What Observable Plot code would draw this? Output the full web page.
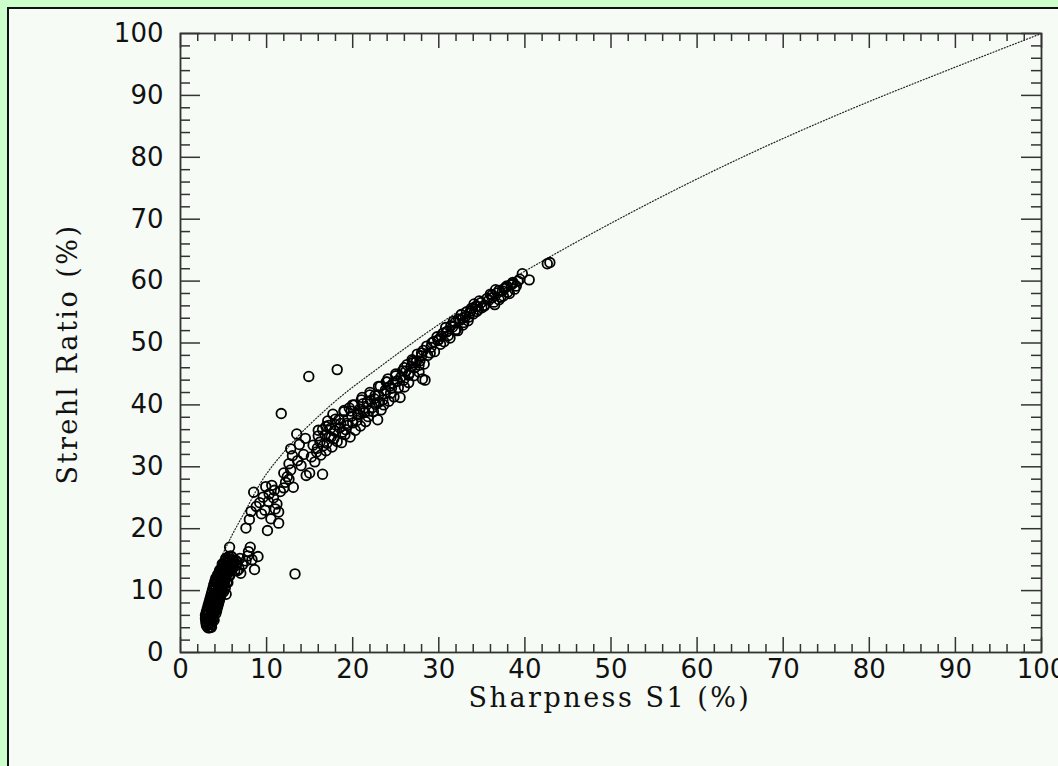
<!DOCTYPE html>
<html>
<head>
<meta charset="utf-8">
<script src="https://cdn.jsdelivr.net/npm/d3@7"></script>
<script src="https://cdn.jsdelivr.net/npm/@observablehq/plot@0.6"></script>
<style>
  html, body { margin: 0; padding: 0; width: 1058px; height: 766px; overflow: hidden; background: #ccffcc; }
  #panel { position: absolute; left: 7px; top: 7px; right: 0; bottom: 0; background: #f6fbf6;
           border-left: 2px solid #111; border-top: 2px solid #111; }
  #chart { position: absolute; left: 0; top: 0; }
</style>
</head>
<body>
<div id="panel"></div>
<div id="chart"></div>
<script>
// Sharpness S1 (%) vs Strehl Ratio (%) — measured points
const s1 = [
  // dense low-sharpness cluster
  3.2,3.4,3.6, 3.0,3.3,3.6, 3.0,3.3,3.6,3.9, 2.9,3.2,3.5,3.8, 2.9,3.2,3.5,3.8,4.1,
  3.0,3.3,3.6,3.9,4.2, 3.1,3.4,3.7,4.0,4.3, 3.2,3.5,3.8,4.1,4.4, 3.3,3.6,3.9,4.2,4.5,
  3.4,3.7,4.0,4.3,4.6, 3.5,3.8,4.1,4.4,4.7,5.3, 3.6,3.9,4.2,4.5,4.8, 3.7,4.0,4.3,4.6,4.9,5.2,
  3.8,4.1,4.4,4.7,5.0, 3.9,4.2,4.5,4.8,5.1,5.4, 4.0,4.3,4.6,4.9,5.2, 4.1,4.4,4.7,5.0,5.3,5.7,
  4.3,4.6,4.9,5.2,5.5, 4.5,4.8,5.1,5.4,5.8,6.3, 4.7,5.0,5.3,5.6,6.0, 4.9,5.2,5.5,5.9,6.5,
  5.1,5.4,5.8,6.2, 5.3,5.7,6.1, 5.6,6.0, 5.7,
  3.05,3.45,3.15,3.55,3.05,3.65,3.95,3.25,3.85,4.25,3.45,4.05,4.45,3.55,3.85,4.35,4.65,3.95,4.55,4.95,
  4.15,4.75,5.05,4.35,4.85,5.35,4.55,5.15,5.75,4.85,5.45,6.05,5.25,5.85,2.95,3.75,4.6,5.0,5.5,5.6,6.2,6.6,6.4,
  // transition
  6.8,7.2,7.6,7.9,8.1,7.8,8.6,9.0,8.3,7.0,6.6,6.9,
  7.6,8.0,8.2,8.5,8.8,9.2,9.6,9.9,10.3,10.6,10.9,11.2,10.1,10.5,11.4,11.4,11.0,12.0,12.4,12.8,13.1,13.3,
  11.7,12.8,13.5,13.6,14.0,14.3,14.6,15.0,16.5,14.9,18.2,12.0,12.6,13.0,13.8,14.5,
  9.4,9.8,10.2,10.8,11.6,12.2,12.6,
  // main band
  15.4,15.8,16.2,16.5,16.8,17.1,17.4,17.7,17.0,17.8,18.0,18.4,18.8,19.0,19.3,19.6,19.9,
  20.2,20.5,20.8,21.1,21.4,21.7,22.0,22.3,22.6,22.9,23.2,23.5,23.8,24.1,24.4,24.7,25.0,
  25.3,25.6,26.0,26.3,26.6,26.9,27.2,27.5,27.8,28.1,28.4,28.2,28.6,29.0,29.4,29.8,
  30.2,30.5,30.8,31.1,31.4,31.7,32.0,32.3,32.6,32.9,33.2,33.5,33.8,34.1,34.4,34.7,35.0,
  35.6,36.0,36.4,36.8,37.2,37.6,38.0,38.4,38.8,39.2,39.7,40.5,42.6,42.9,
  16.0,16.9,17.5,18.6,19.2,19.8,20.6,21.2,21.9,22.5,23.0,23.7,24.3,25.1,25.8,26.5,27.0,27.7,
  29.2,30.0,31.0,31.9,32.8,33.6,34.5,35.3,36.2,37.0,37.9,38.6,
  15.2,15.6,15.9,16.3,16.6,16.9,17.3,17.6,17.9,18.2,18.5,18.7,19.1,19.4,19.7,20.0,20.3,20.6,20.9,21.2,
  21.5,21.8,22.1,22.4,22.7,23.0,23.3,23.6,23.9,24.2,24.5,24.8,25.2,25.5,25.9,26.2,26.5,26.8,27.1,27.4,
  27.7,28.0,28.3,28.7,29.1,29.5,29.9,30.3,30.6,30.9,31.3,31.6,31.9,32.2,32.5,32.8,33.1,33.4,33.7,34.0,
  34.3,34.6,34.9,35.3,35.8,36.2,36.6,37.0,37.4,37.8,38.2,38.6,39.0,39.4,36.5,37.5,
  16.0,17.2,18.0,19.0,20.0,21.0,22.0,23.0,24.0,25.0,26.0,27.0,28.0
];
const strehl = [
  4.0,4.0,4.1, 4.5,4.6,4.5, 5.0,5.1,5.0,5.2, 5.5,5.6,5.4,5.7, 6.0,6.1,5.9,6.2,6.3,
  6.5,6.6,6.4,6.7,6.8, 7.0,7.1,6.9,7.2,7.3, 7.5,7.6,7.4,7.7,7.8, 8.0,8.1,7.9,8.2,8.3,
  8.5,8.6,8.4,8.7,8.8, 9.0,9.1,8.9,9.2,9.3,9.4, 9.5,9.6,9.4,9.7,9.8, 10.0,10.1,9.9,10.2,10.3,10.4,
  10.5,10.6,10.4,10.7,10.8, 11.0,11.1,10.9,11.2,11.3,11.4, 11.5,11.6,11.4,11.7,11.8, 12.0,12.1,11.9,12.2,12.3,12.4,
  12.5,12.6,12.4,12.7,12.8, 13.0,13.1,12.9,13.2,13.3,13.2, 13.5,13.6,13.4,13.7,13.8, 14.0,14.1,13.9,14.2,14.2,
  14.5,14.6,14.4,14.7, 15.0,15.1,14.9, 15.5,15.4, 17.0,
  4.3,4.8,5.3,5.8,6.2,6.3,6.6,6.9,7.3,7.6,7.8,8.3,8.6,8.7,9.3,9.7,9.9,10.3,10.6,10.9,
  11.3,11.6,11.8,12.2,12.6,12.8,13.3,13.6,13.7,14.3,14.8,14.3,15.2,15.6,4.9,5.3,9.3,9.8,11.3,12.4,13.8,13.2,14.9,
  13.5,14.2,14.8,16.3,17.0,15.6,13.4,15.5,15.0,12.8,14.6,15.2,
  20.1,21.5,22.8,25.9,23.6,24.2,25.1,26.8,25.6,27.0,26.2,24.0,19.7,21.6,20.9,22.7,23.2,26.6,28.4,29.5,26.7,12.7,
  38.6,32.9,35.3,31.0,30.2,32.0,28.6,29.0,28.8,44.6,45.7,29.0,30.5,31.8,33.6,34.6,
  22.4,23.0,24.4,25.0,26.0,27.5,28.0,
  33.5,32.4,34.0,36.0,35.2,37.4,36.2,38.5,33.8,34.5,36.8,37.6,35.6,38.9,37.0,39.5,38.2,
  40.0,37.5,39.3,41.2,38.8,40.5,42.0,39.6,41.5,37.6,43.0,40.8,42.4,44.2,41.9,43.5,45.0,
  42.8,44.5,42.9,46.5,45.2,47.3,46.0,48.2,47.1,44.2,44.0,48.8,49.5,48.4,50.2,51.0,
  49.8,51.6,52.5,51.2,52.8,53.5,52.2,53.9,54.6,53.3,55.0,54.2,55.6,56.3,55.1,56.8,55.7,
  57.2,57.9,56.6,58.1,57.4,58.8,58.2,59.4,58.7,60.0,61.2,60.2,62.8,63.0,
  35.0,36.5,34.8,37.0,36.0,39.0,38.6,40.2,39.0,41.0,40.4,41.8,43.0,43.8,45.5,44.8,46.8,46.4,
  50.0,50.6,51.9,52.0,54.0,54.8,55.9,56.0,57.8,58.5,59.2,59.8,
  31.6,30.8,33.0,31.9,33.4,32.6,34.9,33.2,35.8,34.1,36.3,33.9,35.2,36.7,34.8,37.1,35.9,38.4,36.6,39.0,
  37.3,38.1,40.7,38.9,40.1,41.6,39.2,40.0,43.7,40.6,42.7,41.3,43.9,41.2,44.0,45.5,43.6,46.2,44.7,47.0,
  45.3,47.9,46.6,48.0,49.3,48.6,50.4,51.1,50.2,51.8,50.8,52.6,53.3,52.0,53.7,52.9,54.3,53.6,55.2,54.7,
  55.9,55.4,56.5,56.1,56.9,57.3,58.6,57.0,58.4,59.0,58.0,59.6,59.2,60.3,56.2,57.6,
  35.9,36.7,37.7,39.1,40.0,40.8,41.6,43.0,43.7,44.7,46.0,47.1,48.4
];
// dotted reference relation
const curveX = [3.3, 4.0, 5.0, 6.0, 7.5, 9.3, 12.4, 17.0, 23.6, 31.4, 39.5, 46.1, 55.0, 66.3, 76.7, 89.5, 100];
const curveY = [11.1, 13.3, 16.2, 19.0, 22.8, 27.4, 33.0, 39.4, 46.6, 54.3, 61.2, 66.4, 73.0, 80.7, 87.1, 94.3, 100];

const majorTicks = [0, 10, 20, 30, 40, 50, 60, 70, 80, 90, 100];
const minorTicks = d3.range(0, 101, 2).filter(v => v % 10 !== 0);

const points = s1.map((x, i) => ({x, y: strehl[i]}));
const curve = curveX.map((x, i) => ({x, y: curveY[i]}));

const W = 1058, H = 766;
const mL = 180, mT = 33, mR = 17, mB = 114;
const pw = W - mL - mR, ph = H - mT - mB;

const chart = Plot.plot({
  width: W, height: H,
  marginLeft: mL, marginTop: mT, marginRight: mR, marginBottom: mB,
  style: {background: "transparent", fontFamily: "DejaVu Sans", color: "#111"},
  x: {domain: [0, 100]},
  y: {domain: [0, 100]},
  marks: [
    Plot.line(curve, {x: "x", y: "y", stroke: "#222", strokeWidth: 1.2, strokeDasharray: "1,2", curve: "monotone-x"}),
    Plot.dot(points, {x: "x", y: "y", r: 4.8, stroke: "#000", strokeWidth: 1.8, fill: "none"}),
    // inward ticks, bottom & top
    Plot.tickX(majorTicks, {x: d => d, insetTop: ph - 15, stroke: "#333", strokeWidth: 1.5}),
    Plot.tickX(minorTicks, {x: d => d, insetTop: ph - 8, stroke: "#333", strokeWidth: 1.5}),
    Plot.tickX(majorTicks, {x: d => d, insetBottom: ph - 15, stroke: "#333", strokeWidth: 1.5}),
    Plot.tickX(minorTicks, {x: d => d, insetBottom: ph - 8, stroke: "#333", strokeWidth: 1.5}),
    // inward ticks, left & right
    Plot.tickY(majorTicks, {y: d => d, insetRight: pw - 20, stroke: "#333", strokeWidth: 1.5}),
    Plot.tickY(minorTicks, {y: d => d, insetRight: pw - 10, stroke: "#333", strokeWidth: 1.5}),
    Plot.tickY(majorTicks, {y: d => d, insetLeft: pw - 20, stroke: "#333", strokeWidth: 1.5}),
    Plot.tickY(minorTicks, {y: d => d, insetLeft: pw - 10, stroke: "#333", strokeWidth: 1.5}),
    Plot.frame({stroke: "#333", strokeWidth: 1.8}),
    Plot.axisX(majorTicks, {tickSize: 0, tickPadding: 7, fontSize: 26, label: null, tickFormat: d => String(d)}),
    Plot.axisY(majorTicks, {tickSize: 0, tickPadding: 17, fontSize: 26, label: null, tickFormat: d => String(d)})
  ]
});
document.getElementById("chart").appendChild(chart);

// axis titles as text in the same SVG
const svg = d3.select(chart);
svg.append("text")
  .attr("x", 610).attr("y", 707)
  .attr("text-anchor", "middle")
  .attr("font-family", "DejaVu Serif").attr("font-size", 27).attr("letter-spacing", 2.5)
  .attr("fill", "#111")
  .text("Sharpness S1 (%)");
svg.append("text")
  .attr("transform", "translate(77,354) rotate(-90)")
  .attr("text-anchor", "middle")
  .attr("font-family", "DejaVu Serif").attr("font-size", 27).attr("letter-spacing", 2.5)
  .attr("fill", "#111")
  .text("Strehl Ratio (%)");
</script>
</body>
</html>
